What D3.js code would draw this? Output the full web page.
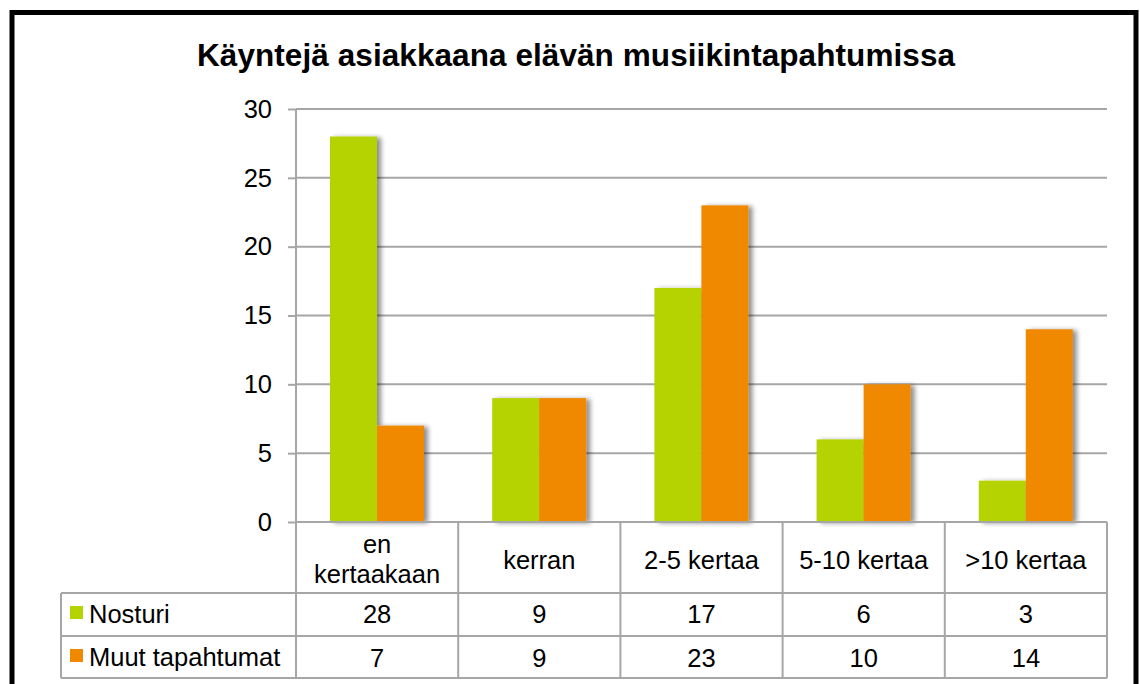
<!DOCTYPE html>
<html><head><meta charset="utf-8">
<script src="https://cdn.jsdelivr.net/npm/d3@7"></script>
<style>body{margin:0;background:#fff}svg{display:block;font-family:"Liberation Sans",Arial,sans-serif}</style>
</head><body><svg id="c" width="1140" height="684"></svg>
<script>
const title = "Käyntejä asiakkaana elävän musiikintapahtumissa";
const categories = [["en","kertaakaan"],["kerran"],["2-5 kertaa"],["5-10 kertaa"],[">10 kertaa"]];
const seriesNames = ["Nosturi","Muut tapahtumat"];
const nosturi = [28,9,17,6,3];
const muut = [7,9,23,10,14];
const yTicks = [0,5,10,15,20,25,30];
const colors = ["#b5d300","#f08800"];

const svg = d3.select("#c");
const defs = svg.append("defs");
const f = defs.append("filter").attr("id","sh").attr("x","-20%").attr("y","-10%").attr("width","160%").attr("height","120%");
f.append("feGaussianBlur").attr("in","SourceAlpha").attr("stdDeviation",2.5).attr("result","b");
f.append("feOffset").attr("in","b").attr("dx",4).attr("dy",1).attr("result","o");
f.append("feComponentTransfer").attr("in","o").attr("result","o2").append("feFuncA").attr("type","linear").attr("slope",0.45);
const m = f.append("feMerge"); m.append("feMergeNode").attr("in","o2"); m.append("feMergeNode").attr("in","SourceGraphic");

// frame
svg.append("rect").attr("x",12).attr("y",12.5).attr("width",1124).attr("height",700).attr("fill","none").attr("stroke","#000").attr("stroke-width",5);

const x0 = 296, x1 = 1107, yTop = 109, yBase = 522;
const y = d3.scaleLinear().domain([0,30]).range([yBase,yTop]);
const xb = d3.scaleBand().domain(d3.range(categories.length)).range([x0,x1]);
const xs = d3.scaleBand().domain([0,1]).range([0,94]);

svg.append("text").attr("x",576).attr("y",66).attr("text-anchor","middle").attr("font-weight","bold").attr("font-size",31.5)
  .attr("textLength",758).attr("lengthAdjust","spacing").attr("fill","#000").text(title);

// grid
const ga = svg.append("g").attr("transform",`translate(${x0},0)`)
  .call(d3.axisLeft(y).tickValues(yTicks).tickSize(8).tickPadding(16));
ga.select(".domain").remove();
ga.selectAll(".tick line").attr("stroke","#a6a6a6").attr("stroke-width",2);
ga.selectAll(".tick text").attr("font-size",25.5).attr("fill","#000").attr("font-family","Liberation Sans, Arial, sans-serif");
svg.append("g").selectAll("line").data(yTicks.filter(d=>d>0)).join("line")
  .attr("x1",x0).attr("x2",x1).attr("y1",d=>y(d)).attr("y2",d=>y(d)).attr("stroke","#a6a6a6").attr("stroke-width",2);
svg.append("line").attr("x1",x0).attr("x2",x0).attr("y1",yTop).attr("y2",yBase).attr("stroke","#a6a6a6").attr("stroke-width",2);

// bars
const data = [nosturi, muut];
const bars = svg.append("g").attr("filter","url(#sh)");
data.forEach((vals,s)=>{
  bars.selectAll(null).data(vals).join("rect")
    .attr("x",(d,i)=>xb(i)+34+xs(s)).attr("width",xs.bandwidth())
    .attr("y",d=>y(d)).attr("height",d=>yBase-y(d)).attr("fill",colors[s]);
});

// table
const tb = svg.append("g").attr("stroke","#a6a6a6").attr("stroke-width",2).attr("fill","none");
const rowCat = 593, row1 = 636, row2 = 678, tLeft = 61;
tb.append("line").attr("x1",x0).attr("x2",x1).attr("y1",yBase).attr("y2",yBase);
tb.append("line").attr("x1",tLeft).attr("x2",x1).attr("y1",rowCat).attr("y2",rowCat);
tb.append("line").attr("x1",tLeft).attr("x2",x1).attr("y1",row1).attr("y2",row1);
tb.append("line").attr("x1",tLeft).attr("x2",x1).attr("y1",row2).attr("y2",row2);
tb.append("line").attr("x1",tLeft).attr("x2",tLeft).attr("y1",rowCat).attr("y2",row2);
d3.range(categories.length+1).forEach(i=>{
  const xx = i<categories.length ? xb(i) : x1;
  tb.append("line").attr("x1",xx).attr("x2",xx).attr("y1",yBase).attr("y2",row2);
});

const tx = svg.append("g").attr("font-size",25.5).attr("fill","#000").attr("text-anchor","middle");
categories.forEach((lines,i)=>{
  const cx = xb(i)+xb.bandwidth()/2;
  const t = tx.append("text").attr("x",cx);
  if(lines.length===1) t.attr("y",569).text(lines[0]);
  else lines.forEach((l,k)=>t.append("tspan").attr("x",cx).attr("y",553+k*30).text(l));
  tx.append("text").attr("x",cx).attr("y",623).text(nosturi[i]);
  tx.append("text").attr("x",cx).attr("y",667).text(muut[i]);
});
seriesNames.forEach((n,s)=>{
  const ry = s===0 ? rowCat : row1;
  svg.append("rect").attr("x",70).attr("y",ry+13).attr("width",13).attr("height",13).attr("fill",colors[s]);
  svg.append("text").attr("x",89).attr("y",ry+30).attr("font-size",25.5).attr("fill","#000").text(n);
});
</script></body></html>
